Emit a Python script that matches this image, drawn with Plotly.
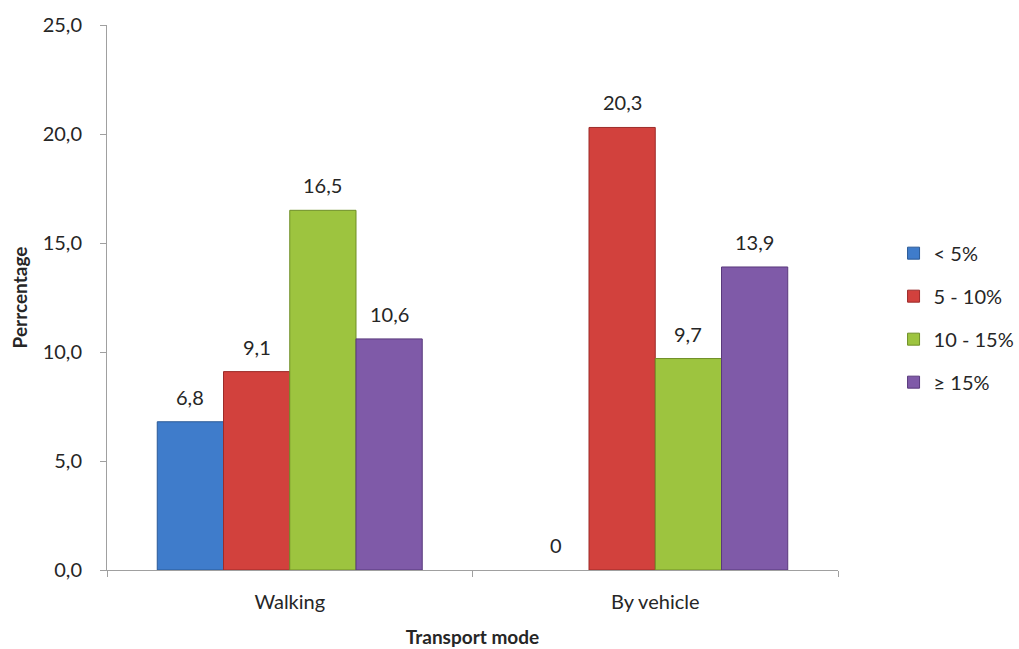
import plotly.graph_objects as go

# Share of trips per slope class, by transport mode
modes = ["Walking", "By vehicle"]
slope_classes = ["< 5%", "5 - 10%", "10 - 15%", "≥ 15%"]
lt5 = [6.8, 0]
s5_10 = [9.1, 20.3]
s10_15 = [16.5, 9.7]
ge15 = [10.6, 13.9]

series = [lt5, s5_10, s10_15, ge15]
fills = ["#3f7ccb", "#d2413d", "#9dc43f", "#7f5aa8"]
edges = ["#2b5a96", "#9c2b29", "#6f8f27", "#59397c"]

FONT = "Lato, 'Open Sans', sans-serif"
INK = "#262626"

W, H = 1019, 649
M = dict(l=107, r=181, t=25, b=79)
BARGAP = 0.275


def label(v):
    return "0" if v == 0 else f"{v:.1f}".replace(".", ",")


fig = go.Figure()
for i, (name, vals) in enumerate(zip(slope_classes, series)):
    fig.add_trace(go.Bar(
        x=modes, y=vals, name=name,
        marker=dict(color=fills[i],
                    line=dict(color=edges[i],
                              width=[1 if v else 0 for v in vals])),
        legendgroup=f"g{i}",
    ))

# value labels above each bar, shifted sideways to the bar's slot in the group
plot_w = W - M["l"] - M["r"]
slot_w = plot_w / len(modes) * (1 - BARGAP) / len(series)
for i, vals in enumerate(series):
    dx = (i - (len(series) - 1) / 2) * slot_w
    for mode, v in zip(modes, vals):
        fig.add_annotation(
            x=mode, y=v, text=label(v), showarrow=False,
            xshift=dx, yshift=25, yanchor="middle",
            font=dict(family=FONT, size=20, color=INK),
        )

fig.update_layout(
    width=W, height=H,
    margin=dict(**M, autoexpand=False),
    paper_bgcolor="white", plot_bgcolor="white",
    barmode="group", bargap=BARGAP, bargroupgap=0,
    separators=",.",
    font=dict(family=FONT, size=20, color=INK),
    showlegend=True,
    legend=dict(
        x=1.076, y=0.463, xanchor="left", yanchor="middle",
        font=dict(family=FONT, size=20, color=INK),
        tracegroupgap=14, itemwidth=30,
    ),
    xaxis=dict(
        type="category", range=[-0.5, 1.5],
        showline=True, linecolor="#a0a0a0", linewidth=1,
        ticks="outside", tickson="boundaries", ticklen=6, tickcolor="#a0a0a0",
        showgrid=False, ticklabelstandoff=14,
        tickfont=dict(family=FONT, size=20, color=INK),
        title=dict(text="<b>Transport mode</b>", standoff=18,
                   font=dict(family=FONT, size=19, color=INK)),
    ),
    yaxis=dict(
        range=[0, 25], dtick=5, tickformat=".1f",
        showline=True, linecolor="#a0a0a0", linewidth=1,
        ticks="outside", ticklen=6, tickcolor="#a0a0a0",
        showgrid=False, zeroline=False, ticklabelstandoff=14,
        tickfont=dict(family=FONT, size=20, color=INK),
        title=dict(text="<b>Perrcentage</b>", standoff=10,
                   font=dict(family=FONT, size=19, color=INK)),
    ),
)

fig.write_html("out.html")
